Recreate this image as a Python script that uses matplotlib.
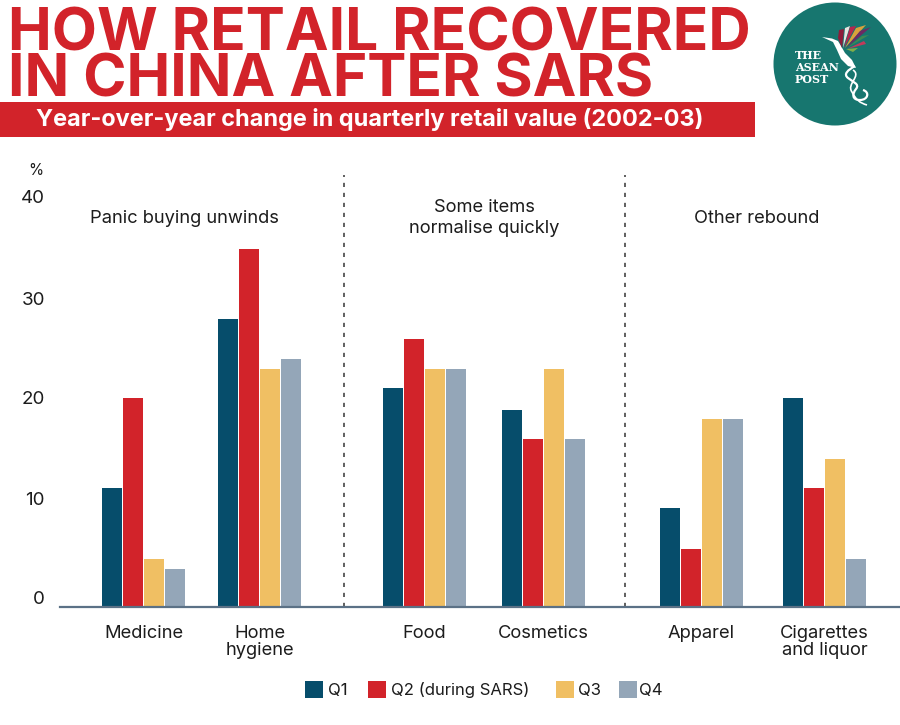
import matplotlib

matplotlib.use("Agg")
import matplotlib.pyplot as plt
from matplotlib.patches import Circle, PathPatch, Polygon, Rectangle
from matplotlib.path import Path

# values, one list per quarter
categories = ["Medicine", "Home\nhygiene", "Food", "Cosmetics", "Apparel", "Cigarettes\nand liquor"]
q1 = [11.6, 28.1, 21.4, 19.2, 9.7, 20.4]
q2 = [20.4, 34.9, 26.1, 16.4, 5.7, 11.6]
q3 = [4.7, 23.2, 23.2, 23.2, 18.3, 14.4]
q4 = [3.7, 24.2, 23.2, 16.4, 18.3, 4.7]
series_names = ["Q1", "Q2 (during SARS)", "Q3", "Q4"]
y_ticks = [0, 10, 20, 30, 40]

W, H = 900, 725
FONT = "Inter"
RED = "#d2232a"
TEXT = "#1c1c1c"
colors = ["#064d6b", RED, "#f0bf63", "#94a6b8"]

group_x = [143.5, 259.5, 424.5, 543.5, 701.5, 824.5]
divider_x = [344, 625]
BAR_W, BAR_STEP = 20, 21
PX_PER_UNIT = 10.25
AX_LEFT, AX_TOP, AX_BASE = 60, 175, 607

fig = plt.figure(figsize=(W / 100, H / 100), dpi=100, facecolor="white")

# overlay in pixel coords for the header and the logo
bg = fig.add_axes([0, 0, 1, 1])
bg.set_xlim(0, W)
bg.set_ylim(H, 0)
bg.axis("off")

bg.text(8, 96, "HOW RETAIL RECOVERED\nIN CHINA AFTER SARS", color=RED, fontsize=42.2, fontweight="bold",
        family=FONT, va="baseline", ha="left", linespacing=0.79)
bg.add_patch(Rectangle((0, 102), 755, 35, color=RED, lw=0))
bg.text(36, 119, "Year-over-year change in quarterly retail value (2002-03)", color="white",
        fontsize=16.9, fontweight="bold", family=FONT, va="center", ha="left")

# logo
bg.add_patch(Circle((835, 64), 61.5, color="#17766f", lw=0))
for word, y in zip(["THE", "ASEAN", "POST"], [55, 67.5, 79.5]):
    bg.text(795, y, word, color="white", fontsize=8, fontweight="bold",
            family="DejaVu Serif", va="center", ha="left")
bird_body = [(822, 37), (832, 38.5), (838, 41), (841, 46), (845, 53), (852, 60), (856, 68),
             (848, 66), (841, 59), (837, 50), (833, 42)]
bg.add_patch(Polygon(bird_body, color="white", lw=0))
tail = Path([(855, 66), (848, 70), (843, 74), (848, 78),
             (853, 82), (860, 84), (856, 89),
             (852, 94), (852, 100), (860, 100),
             (868, 100), (870, 92), (863, 90)],
            [Path.MOVETO] + [Path.CURVE4] * 12)
tail2 = Path([(853, 70), (862, 76), (846, 84), (852, 92), (856, 100), (860, 103), (867, 105)],
             [Path.MOVETO] + [Path.CURVE4] * 6)
bg.add_patch(PathPatch(tail, fc="none", ec="white", lw=1.6))
bg.add_patch(PathPatch(tail2, fc="none", ec="white", lw=1.2))
feathers = [
    ([(842, 48), (838, 38), (839, 30), (844, 29)], "#8e1c3a"),
    ([(843, 48), (845, 28), (850, 26)], "#e9e4e0"),
    ([(844, 48), (850, 27), (856, 26)], "#b5264e"),
    ([(845, 48), (856, 28), (866, 25)], "#d9a13c"),
    ([(846, 48), (860, 31), (871, 27)], "#6d2a63"),
    ([(847, 48), (862, 36), (869, 35)], "#3f8a52"),
    ([(847, 49), (864, 41), (866, 44)], "#c23a5b"),
    ([(846, 49), (858, 48), (853, 52)], "#7fae4a"),
]
for pts, c in feathers:
    bg.add_patch(Polygon(pts, color=c, lw=0))

# chart, x axis stays in pixels so the groups sit where they do in the picture
ax = fig.add_axes([AX_LEFT / W, 1 - AX_BASE / H, 1 - AX_LEFT / W, (AX_BASE - AX_TOP) / H])
ax.patch.set_alpha(0)
ax.set_xlim(AX_LEFT, W)
ax.set_ylim(0, (AX_BASE - AX_TOP) / PX_PER_UNIT)

for k, (values, name, c) in enumerate(zip([q1, q2, q3, q4], series_names, colors)):
    xs = [g + (k - 1.5) * BAR_STEP for g in group_x]
    ax.bar(xs, values, width=BAR_W, color=c, label=name, linewidth=0, zorder=2)

for x in divider_x:
    ax.axvline(x, color="#444444", lw=1.2, ls=(0, (2.5, 3.5)), zorder=1)

for s in ["top", "right", "left"]:
    ax.spines[s].set_visible(False)
ax.spines["bottom"].set_color("#5b7186")
ax.spines["bottom"].set_linewidth(1.6)

ax.set_xticks(group_x)
ax.set_xticklabels(categories, fontsize=13.2, color=TEXT, family=FONT, linespacing=1.0, va="top")
ax.tick_params(axis="x", length=0, pad=13)

# tick labels are evenly set in the picture but not quite on the scale
ax.set_yticks(y_ticks)
ax.set_yticklabels([])
ax.tick_params(axis="y", length=0)
label_px = [599, 500, 399, 300, 198]
for t, py in zip(y_ticks, label_px):
    bg.text(45, py, str(t), fontsize=13.5, color=TEXT, family=FONT, ha="right", va="center")
bg.text(43, 170, "%", fontsize=11, color=TEXT, family=FONT, ha="right", va="center")

bg.text(184.5, 218, "Panic buying unwinds", fontsize=13.2, color=TEXT, family=FONT, ha="center", va="center")
bg.text(484, 218, "Some items\nnormalise quickly", fontsize=13.2, color=TEXT, family=FONT, ha="center",
        va="center", linespacing=1.27)
bg.text(757, 218, "Other rebound", fontsize=13.2, color=TEXT, family=FONT, ha="center", va="center")

# legend by hand, the gaps between entries are uneven
legend_x = [(305, 328), (368, 391), (556, 578), (619, 639)]
for (bx, tx), name, c in zip(legend_x, series_names, colors):
    bg.add_patch(Rectangle((bx, 681), 18, 17, color=c, lw=0))
    bg.text(tx, 690, name, fontsize=12, color=TEXT, family=FONT, ha="left", va="center")

fig.savefig("out.png", dpi=100)
